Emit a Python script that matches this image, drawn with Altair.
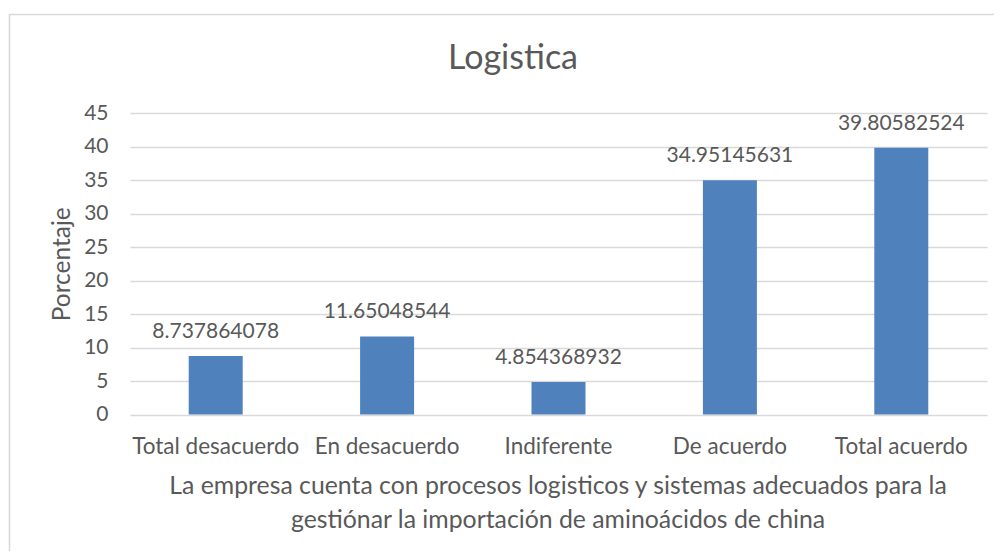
import altair as alt
import pandas as pd

categories = ["Total desacuerdo", "En desacuerdo", "Indiferente", "De acuerdo", "Total acuerdo"]
values = [8.737864078, 11.65048544, 4.854368932, 34.95145631, 39.80582524]
labels = ["8.737864078", "11.65048544", "4.854368932", "34.95145631", "39.80582524"]
y_ticks = [0, 5, 10, 15, 20, 25, 30, 35, 40, 45]
chart_title = "Logistica"

df = pd.DataFrame({"cat": categories, "val": values, "lab": labels})

FONT = "Lato"
TXT = "#595959"
GRID = "#D9D9D9"

W = 857
H = 301.5

x_enc = alt.X(
    "cat:N",
    sort=categories,
    scale=alt.Scale(paddingInner=0.685, paddingOuter=0.3425),
    axis=alt.Axis(
        title=["La empresa cuenta con procesos logisticos y sistemas adecuados para la",
               "gestiónar la importación de aminoácidos de china"],
        titleFont=FONT, titleFontSize=24.8, titleFontWeight="normal", titleColor=TXT,
        titleLineHeight=34.3, titleBaseline="alphabetic", titleY=79, titleX=W / 2 - 1,
        titleAlign="center",
        labelFont=FONT, labelFontSize=22.5, labelColor=TXT, labelPadding=21,
        labelAngle=0, ticks=False, domain=False, grid=False, labelOverlap=False,
    ),
)

y_enc = alt.Y(
    "val:Q",
    scale=alt.Scale(domain=[0, 45], nice=False),
    axis=alt.Axis(
        values=y_ticks, title="Porcentaje",
        titleFont=FONT, titleFontSize=24.5, titleFontWeight="normal", titleColor=TXT,
        titleX=-68, titleY=H / 2, titleAngle=-90, titleAlign="center", titleBaseline="middle",
        labelFont=FONT, labelFontSize=21, labelColor=TXT, labelPadding=22,
        labelOverlap=False, labelFlush=False,
        ticks=False, domain=False, grid=True, gridColor=GRID, gridWidth=1.3,
    ),
)

base = alt.Chart(df).encode(x=x_enc, y=y_enc)

bars = base.mark_bar(color="#4F81BD")

text = base.mark_text(
    font=FONT, fontSize=21, color=TXT, baseline="alphabetic", dy=-18
).encode(text="lab:N")

one = pd.DataFrame({"t": [chart_title]})

border = alt.Chart(one).mark_rect(
    fill="transparent", stroke=GRID, strokeWidth=1.6
).encode(
    x=alt.value(-120.5), y=alt.value(-98.5), x2=alt.value(1010 - 130), y2=alt.value(600 - 113)
)

title_mark = alt.Chart(one).mark_text(
    font=FONT, fontSize=34, color=TXT, baseline="alphabetic", align="center"
).encode(x=alt.value(513 - 130), y=alt.value(69 - 113), text="t:N")

chart = alt.layer(border, bars, text, title_mark).properties(
    width=W, height=H,
    background="white",
    view=alt.ViewBackground(strokeWidth=0, strokeOpacity=0),
    autosize=alt.AutoSizeParams(type="none"),
    padding={"left": 122, "top": 105, "right": 7, "bottom": 136},
).configure_view(strokeWidth=0, strokeOpacity=0).configure_axis(domain=False, ticks=False)

chart.save("out.html", embed_options={"renderer": "svg", "actions": False})
